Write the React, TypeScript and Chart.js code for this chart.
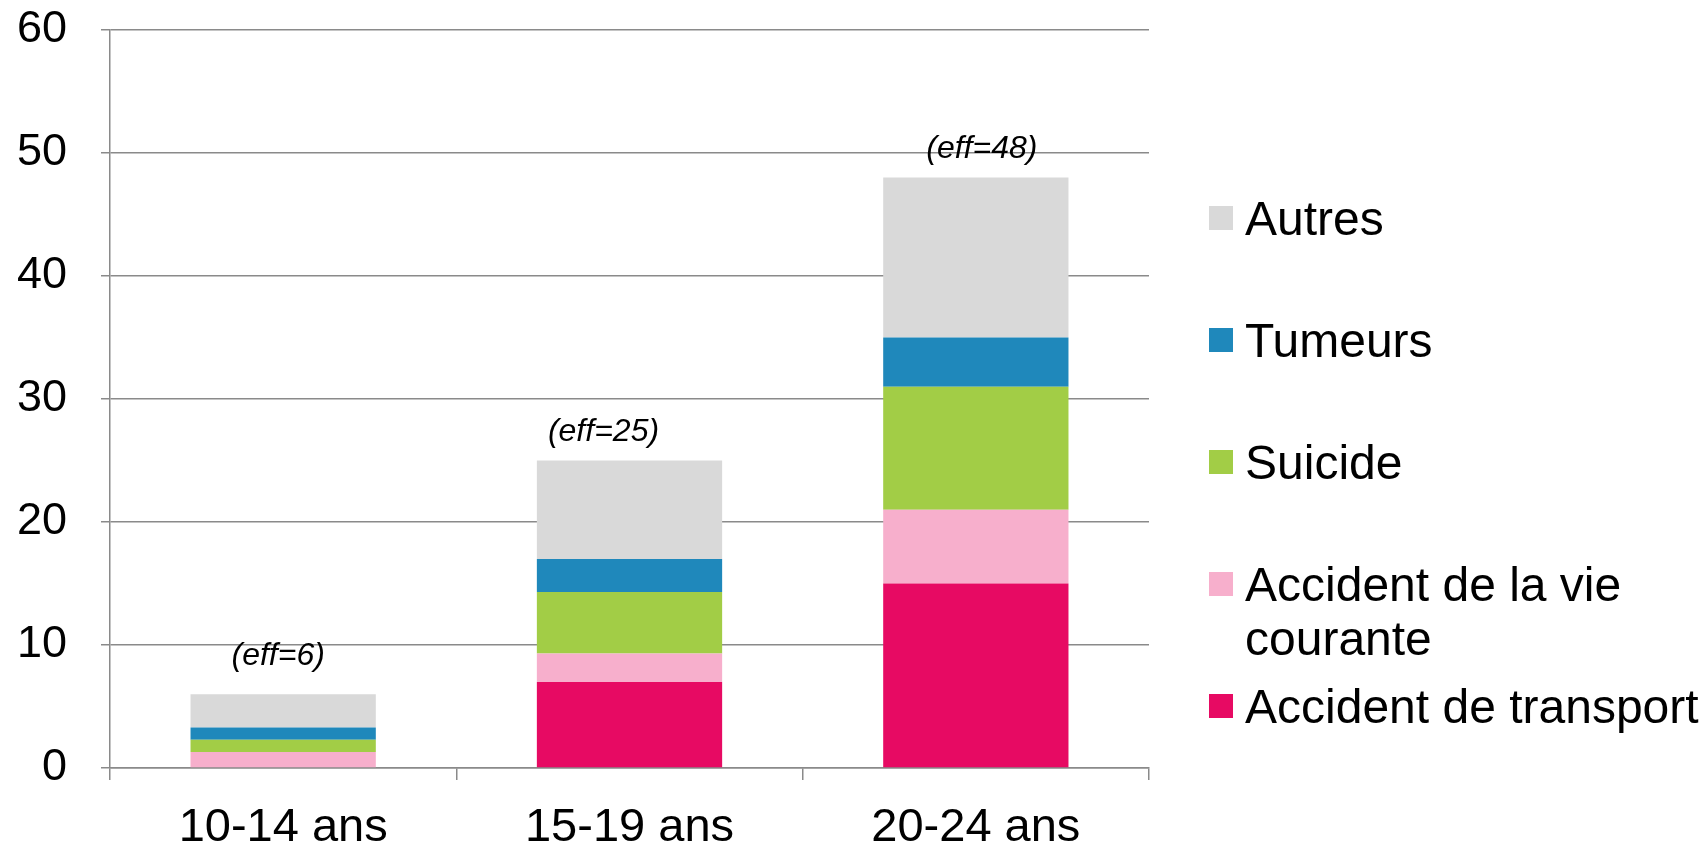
import React, { useEffect, useRef } from "react";
import { Chart, registerables } from "chart.js";

Chart.register(...registerables);

const FONT = "'Liberation Sans', Arial, sans-serif";

const CATEGORIES = ["10-14 ans", "15-19 ans", "20-24 ans"];
const SERIES_NAMES = [
  "Accident de transport",
  "Accident de la vie courante",
  "Suicide",
  "Tumeurs",
  "Autres",
];
const TRANSPORT = [0, 7, 15];
const VIE_COURANTE = [1.3, 2.3, 6];
const SUICIDE = [1, 5, 10];
const TUMEURS = [1, 2.7, 4];
const AUTRES = [2.7, 8, 13];
const EFFECTIFS = [6, 25, 48];
const Y_MIN = 0;
const Y_MAX = 60;
const Y_STEP = 10;

const COLORS = ["#E70A63", "#F7AFCC", "#A2CD46", "#1F88BB", "#D9D9D9"];
const GRID = "#8A8A8A";

// small hand nudges of the "(eff=…)" annotations, as placed in the original
const EFF_NUDGE_X = [-5, -26, 6];
const EFF_NUDGE_Y = [-9, 0, 0];

const SERIES_VALUES = [TRANSPORT, VIE_COURANTE, SUICIDE, TUMEURS, AUTRES];

const effLabelsPlugin = {
  id: "effLabels",
  afterDatasetsDraw(chart: any) {
    const ctx = chart.ctx;
    const xs = chart.scales.x;
    const ys = chart.scales.y;
    ctx.save();
    ctx.font = `italic 32px ${FONT}`;
    ctx.fillStyle = "#000";
    ctx.textAlign = "center";
    ctx.textBaseline = "alphabetic";
    EFFECTIFS.forEach((n, i) => {
      let total = 0;
      chart.data.datasets.forEach((d: any) => (total += d.data[i]));
      const x = xs.getPixelForValue(i) + EFF_NUDGE_X[i];
      const y = ys.getPixelForValue(total) - 20 + EFF_NUDGE_Y[i];
      ctx.fillText(`(eff=${n})`, x, y);
    });
    ctx.restore();
  },
};

function wrapText(ctx: CanvasRenderingContext2D, text: string, maxW: number) {
  const words = text.split(" ");
  const lines: string[] = [];
  let cur = "";
  words.forEach((w) => {
    const test = cur ? cur + " " + w : w;
    if (ctx.measureText(test).width > maxW && cur) {
      lines.push(cur);
      cur = w;
    } else {
      cur = test;
    }
  });
  if (cur) lines.push(cur);
  return lines;
}

const sideLegendPlugin = {
  id: "sideLegend",
  afterDraw(chart: any) {
    const ctx = chart.ctx;
    const area = chart.chartArea;
    const items = chart.data.datasets
      .map((d: any) => ({ text: d.label as string, color: d.backgroundColor as string }))
      .reverse();
    const boxX = area.right + 60;
    const boxSize = 24;
    const textX = boxX + 36;
    const maxW = chart.width - textX - 1;
    const top = 218;
    const step = 122;
    const lineH = 54;
    const fontSize = 48;
    ctx.save();
    ctx.font = `${fontSize}px ${FONT}`;
    ctx.textAlign = "left";
    ctx.textBaseline = "alphabetic";
    items.forEach((it: any, idx: number) => {
      const cy = top + idx * step;
      ctx.fillStyle = it.color;
      ctx.fillRect(boxX, cy - boxSize / 2, boxSize, boxSize);
      ctx.fillStyle = "#000";
      const lines = wrapText(ctx, it.text, maxW);
      lines.forEach((ln, k) => {
        ctx.fillText(ln, textX, cy + k * lineH + fontSize * 0.358);
      });
    });
    ctx.restore();
  },
};

export default function App() {
  const ref = useRef<HTMLCanvasElement | null>(null);

  useEffect(() => {
    document.body.style.margin = "0";
    const canvas = ref.current;
    if (!canvas) return;
    const chart = new Chart(canvas, {
      type: "bar",
      data: {
        labels: CATEGORIES,
        datasets: SERIES_VALUES.map((vals, i) => ({
          label: SERIES_NAMES[i],
          data: vals,
          backgroundColor: COLORS[i],
          borderWidth: 0,
          categoryPercentage: 1,
          barPercentage: 0.535,
        })),
      },
      options: {
        responsive: false,
        animation: false,
        devicePixelRatio: 1,
        layout: { padding: { left: 0, right: 556, top: 30, bottom: 0 } },
        plugins: {
          legend: { display: false },
          tooltip: { enabled: false },
          title: { display: false },
        },
        scales: {
          x: {
            stacked: true,
            offset: true,
            afterFit(scale: any) {
              scale.height = 75;
              scale.paddingLeft = 0;
              scale.paddingRight = 0;
            },
            grid: {
              display: true,
              offset: true,
              drawOnChartArea: false,
              drawTicks: true,
              tickLength: 12,
              color: GRID,
              lineWidth: 1.5,
            },
            border: { display: true, color: GRID, width: 1.5 },
            ticks: {
              color: "#000",
              font: { family: FONT, size: 47 },
              padding: 20,
            },
          },
          y: {
            stacked: true,
            min: Y_MIN,
            max: Y_MAX,
            afterFit(scale: any) {
              scale.width = 110;
              scale.paddingTop = 0;
              scale.paddingBottom = 0;
            },
            grid: {
              color: GRID,
              lineWidth: 1.5,
              drawTicks: true,
              tickLength: 9,
            },
            border: { display: true, color: GRID, width: 1.5 },
            ticks: {
              stepSize: Y_STEP,
              color: "#000",
              font: { family: FONT, size: 45 },
              padding: 34,
            },
          },
        },
      },
      plugins: [effLabelsPlugin, sideLegendPlugin],
    });
    return () => chart.destroy();
  }, []);

  return (
    <canvas
      ref={ref}
      width={1705}
      height={843}
      style={{ display: "block", width: "1705px", height: "843px" }}
    />
  );
}
